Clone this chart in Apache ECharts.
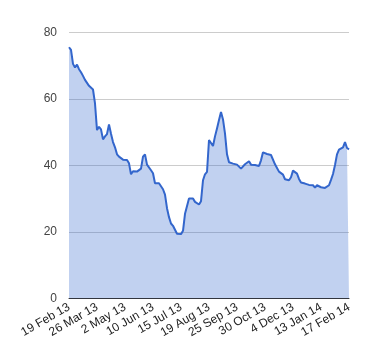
<!DOCTYPE html>
<html>
<head>
<meta charset="utf-8">
<script src="https://cdn.jsdelivr.net/npm/echarts@6/dist/echarts.min.js"></script>
<style>
html,body{margin:0;padding:0;background:#fff;}
#chart{width:380px;height:360px;}
</style>
</head>
<body>
<div id="chart"></div>
<script>
const tickLabels = ["19 Feb 13","26 Mar 13","2 May 13","10 Jun 13","15 Jul 13","19 Aug 13","25 Sep 13","30 Oct 13","4 Dec 13","13 Jan 14","17 Feb 14"];
const values = [
75.5,74.7,70.5,69.4,70.3,68.9,68.0,66.9,65.7,65.5,
63.9,63.6,62.8,58.6,50.6,51.6,50.8,47.8,48.7,49.4,
52.3,49.5,47.0,45.4,43.3,42.6,42.3,41.7,41.5,41.6,
40.6,37.3,38.2,38.4,38.1,38.4,39.0,42.6,43.3,40.2,
39.7,38.5,37.6,34.6,34.5,34.6,34.4,32.8,31.2,27.1,
24.4,22.5,21.8,21.5,19.4,19.3,19.3,20.3,25.4,25.8,
30.0,30.6,30.0,29.0,28.4,28.2,29.2,35.5,37.3,38.0,
47.6,47.1,45.8,48.7,51.1,53.6,56.0,53.8,49.5,43.3,
40.9,41.1,40.5,40.6,40.2,40.0,39.0,39.6,40.3,40.9,
41.2,40.2,39.8,40.1,40.1,39.8,41.5,43.9,43.3,43.4,
42.8,43.1,42.5,40.3,39.2,38.1,37.8,37.2,35.8,35.2,
35.5,36.4,38.4,37.9,37.5,35.9,34.8,34.5,34.5,34.4,
34.1,33.6,34.0,33.3,34.0,33.6,33.4,33.4,33.2,33.1,
34.0,35.6,37.4,40.1,43.3,44.7,44.8,45.4,47.0,45.2,
44.8
];
const pointsPerLabel = (values.length - 1) / (tickLabels.length - 1);
const categories = values.map((v, i) => i);

const chart = echarts.init(document.getElementById('chart'), null, {renderer: 'canvas'});
chart.setOption({
  animation: false,
  grid: {left: 69, right: 31, top: 32.3, bottom: 61.7},
  xAxis: {
    type: 'category',
    data: categories,
    boundaryGap: false,
    axisLine: {show: true, lineStyle: {color: '#333', width: 1}},
    axisTick: {show: false},
    axisLabel: {
      interval: function (idx) { return idx % pointsPerLabel === 0; },
      formatter: function (v) { return tickLabels[Math.round(v / pointsPerLabel)]; },
      rotate: 30,
      margin: 8,
      color: '#222',
      fontFamily: 'Liberation Sans, Arial, sans-serif',
      fontSize: 12
    },
    splitLine: {show: false}
  },
  yAxis: {
    type: 'value',
    min: 0, max: 80, interval: 20,
    axisLine: {show: false},
    axisTick: {show: false},
    axisLabel: {
      margin: 12,
      color: '#444',
      fontFamily: 'Liberation Sans, Arial, sans-serif',
      fontSize: 12
    },
    splitLine: {lineStyle: {color: '#cccccc', width: 1}}
  },
  series: [{
    type: 'line',
    data: values,
    symbol: 'none',
    smooth: false,
    lineStyle: {color: '#3366cc', width: 2},
    areaStyle: {color: '#3366cc', opacity: 0.3}
  }]
});
</script>
</body>
</html>
